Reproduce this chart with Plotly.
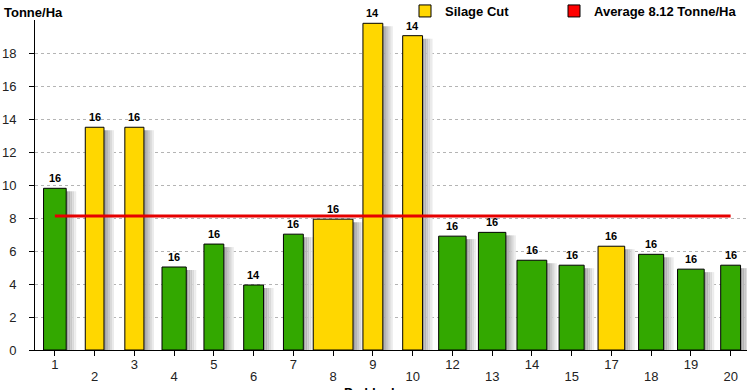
import plotly.graph_objects as go

# ---------------- data ----------------
paddocks = ["1", "2", "3", "4", "5", "6", "7", "8", "9", "10",
            "12", "13", "14", "15", "17", "18", "19", "20"]
tonne_per_ha = [9.8, 13.5, 13.5, 5.03, 6.42, 3.94, 7.02, 7.93, 19.8, 19.05,
                6.9, 7.13, 5.44, 5.14, 6.29, 5.8, 4.9, 5.14]
silage_cut = [False, True, True, False, False, False, False, True, True, True,
              False, False, False, False, True, False, False, False]
bar_labels = ["16", "16", "16", "16", "16", "14", "16", "16", "14", "14",
              "16", "16", "16", "16", "16", "16", "16", "16"]
average = 8.12
y_tick_vals = [0, 2, 4, 6, 8, 10, 12, 14, 16, 18]

# ---------------- styles ----------------
bar_width = [0.57, 0.47, 0.48, 0.61, 0.5, 0.5, 0.5, 1.0, 0.5, 0.5,
             0.69, 0.69, 0.75, 0.63, 0.67, 0.63, 0.67, 0.5]
YELLOW = "#FFD700"
GREEN = "#33A800"
RED = "#E60000"
FONT = "Liberation Sans, Arial, sans-serif"

W, H = 747, 390
M_L, M_R, M_T, M_B = 35, 0, 20, 40
plot_w = W - M_L - M_R
plot_h = H - M_T - M_B
px_per_cat = 39.75
x_range = [-0.5, -0.5 + plot_w / px_per_cat]
y_range = [0, 20]
px_per_y = plot_h / (y_range[1] - y_range[0])

fig = go.Figure()

# soft shadows to the right of each bar (gradient strips)
strip_px = 2.0
strip_cols = ["#a2a2a2", "#b4b4b4", "#c7c7c7", "#d9d9d9", "#ebebeb"]
s = strip_px / px_per_cat
for k, col in enumerate(strip_cols):
    fig.add_trace(go.Bar(
        x=paddocks,
        y=[v - 3.0 / px_per_y for v in tonne_per_ha],
        width=[s] * len(paddocks),
        offset=[w / 2 + k * s for w in bar_width],
        marker=dict(color=col, line=dict(width=0)),
        showlegend=False, hoverinfo="skip",
    ))

# green (not cut) bars
idx_g = [i for i, c in enumerate(silage_cut) if not c]
idx_y = [i for i, c in enumerate(silage_cut) if c]
fig.add_trace(go.Bar(
    x=[paddocks[i] for i in idx_g],
    y=[tonne_per_ha[i] for i in idx_g],
    width=[bar_width[i] for i in idx_g],
    marker=dict(color=GREEN, line=dict(color="black", width=1)),
    showlegend=False, name="Grazed",
))
fig.add_trace(go.Bar(
    x=[paddocks[i] for i in idx_y],
    y=[tonne_per_ha[i] for i in idx_y],
    width=[bar_width[i] for i in idx_y],
    marker=dict(color=YELLOW, line=dict(color="black", width=1)),
    name="Silage Cut", legend="legend",
))
# legend entry for the average (square icon)
fig.add_trace(go.Bar(
    x=[paddocks[0]], y=[None],
    marker=dict(color="#FF0000", line=dict(color="black", width=1)),
    name=f"Average {average} Tonne/Ha", legend="legend2",
))
# average line
fig.add_trace(go.Scatter(
    x=[paddocks[0], paddocks[-1]], y=[average, average],
    mode="lines", line=dict(color=RED, width=3),
    showlegend=False, hoverinfo="skip",
))
# dummy trace for the second (staggered) x axis
fig.add_trace(go.Scatter(
    x=paddocks, y=[None] * len(paddocks), xaxis="x2",
    mode="markers", showlegend=False, hoverinfo="skip",
))

annotations = []
for i, (v, lab) in enumerate(zip(tonne_per_ha, bar_labels)):
    annotations.append(dict(
        x=i, y=v, text=f"<b>{lab}</b>", showarrow=False,
        yanchor="bottom", yshift=2,
        font=dict(family=FONT, size=11, color="black"),
    ))
annotations.append(dict(
    xref="paper", yref="paper", x=(2 - M_L) / plot_w, y=1 + (M_T - 12) / plot_h,
    xanchor="left", yanchor="middle", showarrow=False,
    text="<b>Tonne/Ha</b>", font=dict(family=FONT, size=13, color="black"),
))
annotations.append(dict(
    xref="paper", yref="paper", x=(374 - M_L) / plot_w, y=-(383 - (M_T + plot_h)) / plot_h,
    xanchor="center", yanchor="top", showarrow=False,
    text="<b>Paddocks</b>", font=dict(family=FONT, size=13, color="black"),
))

legend_common = dict(
    orientation="h", xanchor="left",
    y=1 + (M_T - 11) / plot_h, yanchor="middle",
    font=dict(family=FONT, size=13, color="black", weight="bold"),
    bgcolor="rgba(0,0,0,0)",
)

fig.update_layout(
    width=W, height=H,
    margin=dict(l=M_L, r=M_R, t=M_T, b=M_B, autoexpand=False),
    paper_bgcolor="white", plot_bgcolor="white",
    barmode="overlay",
    font=dict(family=FONT, size=13, color="#222"),
    showlegend=True,
    legend=dict(x=(405 - M_L) / plot_w, **legend_common),
    legend2=dict(x=(554 - M_L) / plot_w, **legend_common),
    xaxis=dict(
        type="category", categoryarray=paddocks, categoryorder="array",
        range=x_range, showline=True, linecolor="black", linewidth=1,
        ticks="outside", ticklen=5, tickcolor="black",
        tickvals=paddocks[0::2], ticktext=paddocks[0::2],
        ticklabelstandoff=-3,
        showgrid=False, zeroline=False, automargin=False,
        tickfont=dict(family=FONT, size=13, color="#222"),
    ),
    xaxis2=dict(
        type="category", categoryarray=paddocks, categoryorder="array",
        range=x_range, overlaying="x", side="bottom", anchor="y",
        showline=False, ticks="outside", ticklen=5, tickcolor="black",
        tickvals=paddocks[1::2], ticktext=paddocks[1::2],
        ticklabelstandoff=9, showgrid=False, zeroline=False, automargin=False,
        tickfont=dict(family=FONT, size=13, color="#222"),
    ),
    yaxis=dict(
        range=y_range, showline=True, linecolor="black", linewidth=1,
        ticks="outside", ticklen=5, tickcolor="black",
        tickvals=y_tick_vals, ticklabelstandoff=10, automargin=False,
        showgrid=True, gridcolor="#b4b4b4", griddash="3px,3px", gridwidth=1,
        zeroline=False,
        tickfont=dict(family=FONT, size=13, color="#222"),
    ),
    annotations=annotations,
)

fig.write_html("out.html", config={"displayModeBar": False},
               post_script="document.body.style.margin='0px';")
